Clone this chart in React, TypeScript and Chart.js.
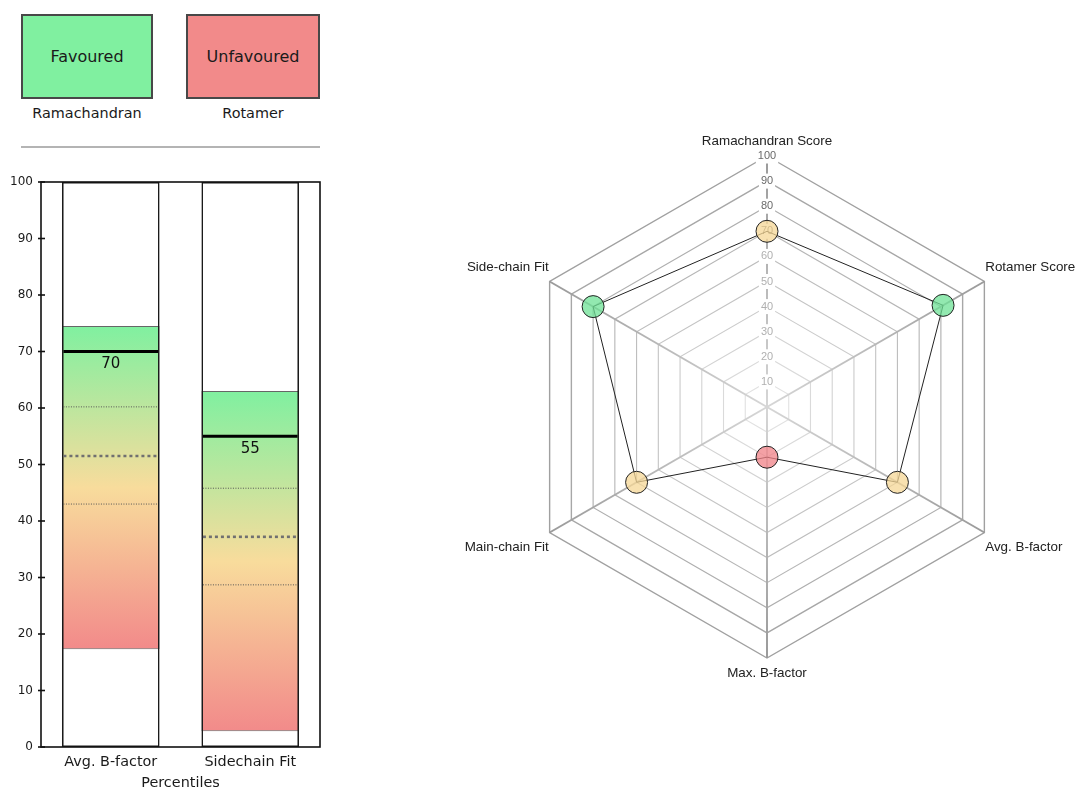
import React, { useEffect, useRef } from 'react';
import { Chart, registerables } from 'chart.js';

Chart.register(...registerables);

// ---------- data ----------
const legendStatuses = ['Favoured', 'Unfavoured'];
const legendCaptions = ['Ramachandran', 'Rotamer'];

const barCategories = ['Avg. B-factor', 'Sidechain Fit'];
const barValues = [70, 55];
const rangeLow = [17.3, 2.8];
const rangeHigh = [74.5, 63.0];
const q1Values = [43.0, 28.7];
const medianValues = [51.5, 37.2];
const q3Values = [60.2, 45.8];
const barAxisTitle = 'Percentiles';

const radarLabels = [
  'Ramachandran Score',
  'Rotamer Score',
  'Avg. B-factor',
  'Max. B-factor',
  'Main-chain Fit',
  'Side-chain Fit',
];
const radarValues = [70, 81, 60, 20, 60, 80];

// ---------- styles ----------
const DV = '"DejaVu Sans", sans-serif';
const LS = '"Liberation Sans", Arial, sans-serif';
const GREEN = '#80f0a0';
const YELLOW = '#f8dc9c';
const RED = '#f28a8a';

function pointColor(v: number) {
  if (v >= 80) return 'rgba(110,225,150,0.75)';
  if (v >= 40) return 'rgba(245,215,150,0.75)';
  return 'rgba(240,130,135,0.75)';
}

function ringGray(v: number) {
  const g = Math.round(225 - ((v - 10) / 90) * 65);
  return `rgb(${g},${g},${g})`;
}

const barDecor = {
  id: 'barDecor',
  afterDatasetsDraw(chart: any) {
    const { ctx, chartArea: a, scales } = chart;
    const y = scales.y;
    const meta = chart.getDatasetMeta(0);
    ctx.save();
    meta.data.forEach((bar: any, i: number) => {
      const half = bar.width / 2;
      const l = bar.x - half + 1.5;
      const r = bar.x + half - 1.5;
      const hline = (v: number, w: number, dash: number[], color: string) => {
        const py = y.getPixelForValue(v);
        ctx.beginPath();
        ctx.setLineDash(dash);
        ctx.lineWidth = w;
        ctx.strokeStyle = color;
        ctx.moveTo(l, py);
        ctx.lineTo(r, py);
        ctx.stroke();
      };
      hline(q3Values[i], 1, [1, 1.5], '#555');
      hline(q1Values[i], 1, [1, 1.5], '#555');
      hline(medianValues[i], 2.6, [3, 3], '#707070');
      hline(barValues[i], 3, [], '#000');
      const py = y.getPixelForValue(barValues[i]);
      ctx.setLineDash([]);
      ctx.fillStyle = '#111';
      ctx.font = `15px ${DV}`;
      ctx.textAlign = 'center';
      ctx.textBaseline = 'middle';
      ctx.fillText(String(barValues[i]), bar.x, py + 12.5);
    });
    ctx.setLineDash([]);
    ctx.strokeStyle = '#111';
    ctx.lineWidth = 1.6;
    ctx.strokeRect(a.left, a.top, a.right - a.left, a.bottom - a.top);
    y.ticks.forEach((t: any) => {
      const py = y.getPixelForValue(t.value);
      ctx.beginPath();
      ctx.moveTo(a.left - 3, py);
      ctx.lineTo(a.left + 4, py);
      ctx.stroke();
    });
    ctx.restore();
  },
};

export default function App() {
  const barRef = useRef<HTMLCanvasElement>(null);
  const radarRef = useRef<HTMLCanvasElement>(null);

  useEffect(() => {
    const full = barCategories.map(() => [0, 100]);
    const barChart = new Chart(barRef.current as HTMLCanvasElement, {
      type: 'bar',
      data: {
        labels: barCategories,
        datasets: [
          {
            data: full as any,
            backgroundColor: '#ffffff',
            borderWidth: 0,
            grouped: false,
            order: 3,
          } as any,
          {
            data: rangeLow.map((lo, i) => [lo, rangeHigh[i]]) as any,
            backgroundColor: (c: any) => {
              const chart = c.chart;
              const y = chart.scales && chart.scales.y;
              if (!chart.chartArea || !y || c.dataIndex == null) return GREEN;
              const i = c.dataIndex;
              const top = y.getPixelForValue(rangeHigh[i]);
              const bot = y.getPixelForValue(rangeLow[i]);
              const g = chart.ctx.createLinearGradient(0, top, 0, bot);
              g.addColorStop(0, GREEN);
              g.addColorStop(0.5, YELLOW);
              g.addColorStop(1, RED);
              return g;
            },
            borderColor: '#666',
            borderWidth: 1,
            borderSkipped: false,
            grouped: false,
            order: 2,
          } as any,
          {
            data: full as any,
            backgroundColor: 'rgba(0,0,0,0)',
            borderColor: '#1a1a1a',
            borderWidth: 1.6,
            borderSkipped: false,
            grouped: false,
            order: 1,
          } as any,
        ],
      },
      options: {
        responsive: false,
        animation: false,
        categoryPercentage: 1,
        barPercentage: 0.7,
        layout: { padding: { top: 12, right: 20, left: 0, bottom: 0 } },
        plugins: { legend: { display: false }, tooltip: { enabled: false } },
        scales: {
          x: {
            type: 'category',
            grid: { display: false, drawTicks: false },
            border: { display: false },
            ticks: { font: { family: DV, size: 14.4 }, color: '#1a1a1a', padding: 7 },
            title: {
              display: true,
              text: barAxisTitle,
              font: { family: DV, size: 14.4 },
              color: '#1a1a1a',
              padding: { top: 0, bottom: 0 },
            },
            afterFit: (s: any) => {
              s.height = 45;
            },
          },
          y: {
            min: 0,
            max: 100,
            grid: { display: false, drawTicks: false },
            border: { display: false },
            ticks: { stepSize: 10, font: { family: DV, size: 12 }, color: '#1a1a1a', padding: 8 },
            afterFit: (s: any) => {
              s.width = 41;
              s.paddingTop = 0;
              s.paddingBottom = 0;
            },
          },
        },
      } as any,
      plugins: [barDecor as any],
    });

    const radarChart = new Chart(radarRef.current as HTMLCanvasElement, {
      type: 'radar',
      data: {
        labels: radarLabels,
        datasets: [
          {
            data: radarValues,
            borderColor: '#222',
            borderWidth: 1,
            fill: false,
            pointRadius: 11,
            pointHoverRadius: 11,
            pointBorderColor: '#222',
            pointBorderWidth: 1,
            pointBackgroundColor: (c: any) => pointColor(c.raw as number),
          } as any,
        ],
      },
      options: {
        responsive: false,
        animation: false,
        layout: { padding: 0 },
        plugins: { legend: { display: false }, tooltip: { enabled: false } },
        scales: {
          r: {
            min: 0,
            max: 100,
            ticks: {
              stepSize: 10,
              font: { family: LS, size: 11 },
              color: (c: any) => (c.tick && c.tick.value >= 70 ? '#6a6a6a' : '#b0b0b0'),
              backdropColor: '#ffffff',
              backdropPadding: 2,
              showLabelBackdrop: true,
            },
            grid: {
              color: (c: any) => ringGray(c.tick ? c.tick.value : 100),
              lineWidth: (c: any) => (c.tick && c.tick.value >= 90 ? 1.4 : 1.1),
            },
            angleLines: {
              color: (c: any) => {
                const chart = c.chart;
                const s = chart.scales && chart.scales.r;
                if (!s || !s.drawingArea) return '#bbb';
                const p = s.getPointPosition(c.index, s.drawingArea);
                const g = chart.ctx.createLinearGradient(s.xCenter, s.yCenter, p.x, p.y);
                g.addColorStop(0, '#d6d6d6');
                g.addColorStop(1, '#9a9a9a');
                return g;
              },
              lineWidth: 2,
            },
            pointLabels: {
              font: { family: LS, size: 13.4, lineHeight: 2.09 },
              color: '#222',
              padding: -6.5,
            },
          },
        },
      } as any,
    });

    return () => {
      barChart.destroy();
      radarChart.destroy();
    };
  }, []);

  const boxLefts = [21, 186];
  const boxWidths = [132, 134];
  const boxColors = [GREEN, RED];

  return (
    <div
      style={{
        position: 'fixed',
        left: 0,
        top: 0,
        width: 1075,
        height: 788,
        overflow: 'hidden',
        background: '#ffffff',
        fontFamily: DV,
      }}
    >
      {legendStatuses.map((s, i) => (
        <React.Fragment key={s}>
          <div
            style={{
              position: 'absolute',
              left: boxLefts[i],
              top: 14,
              width: boxWidths[i],
              height: 85,
              boxSizing: 'border-box',
              border: '2px solid #484848',
              background: boxColors[i],
              display: 'flex',
              alignItems: 'center',
              justifyContent: 'center',
              fontSize: 16,
              color: '#1a1a1a',
            }}
          >
            {s}
          </div>
          <div
            style={{
              position: 'absolute',
              left: boxLefts[i],
              top: 104,
              width: boxWidths[i],
              height: 18,
              lineHeight: '18px',
              textAlign: 'center',
              fontSize: 14.4,
              color: '#1a1a1a',
            }}
          >
            {legendCaptions[i]}
          </div>
        </React.Fragment>
      ))}
      <div
        style={{ position: 'absolute', left: 21, top: 146, width: 299, height: 2, background: '#b4b4b4' }}
      />
      <canvas ref={barRef} width={340} height={622} style={{ position: 'absolute', left: 0, top: 170 }} />
      <canvas ref={radarRef} width={694} height={561} style={{ position: 'absolute', left: 420, top: 127 }} />
    </div>
  );
}
